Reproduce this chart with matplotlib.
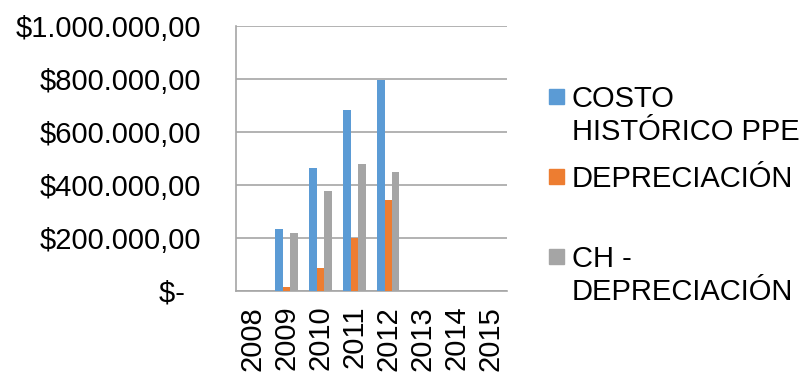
import matplotlib
matplotlib.use("Agg")
import matplotlib.pyplot as plt
import numpy as np
from matplotlib.patches import Rectangle

years = ["2008", "2009", "2010", "2011", "2012", "2013", "2014", "2015"]
costo = [0, 233000, 464000, 683000, 794000, 0, 0, 0]
depreciacion = [0, 12500, 86000, 200000, 344000, 0, 0, 0]
ch_dep = [0, 217000, 375000, 478000, 448000, 0, 0, 0]
yticks = [0, 200000, 400000, 600000, 800000, 1000000]
ytick_labels = ["$-  ", "$200.000,00", "$400.000,00", "$600.000,00", "$800.000,00", "$1.000.000,00"]
legend_lines = [["COSTO", "HISTÓRICO PPE"], ["DEPRECIACIÓN"], ["CH -", "DEPRECIACIÓN"]]
colors = ["#5B9BD5", "#ED7D31", "#A5A5A5"]

plt.rcParams['font.family'] = ['Liberation Sans', 'DejaVu Sans']
FS = 21
W, H = 801, 374
fig = plt.figure(figsize=(W / 100, H / 100), dpi=100)
ax = fig.add_axes([235.7 / W, 1 - 290.5 / H, (507 - 235.7) / W, (290.5 - 26) / H])

x = np.arange(len(years))
bw = 0.22
for i, (vals, c) in enumerate(zip([costo, depreciacion, ch_dep], colors)):
    ax.bar(x + (i - 1) * bw, vals, width=bw, color=c, zorder=3)

ax.set_xlim(-0.5, len(years) - 0.5)
ax.set_ylim(0, 1000000)
ax.set_yticks(yticks)
ax.set_yticklabels(ytick_labels, fontsize=FS)
ax.set_xticks(x)
ax.set_xticklabels(years, rotation=90, fontsize=FS)
ax.tick_params(axis='y', length=0, pad=25)
ax.tick_params(axis='x', length=0, pad=11)
ax.yaxis.grid(True, color="#A6A6A6", linewidth=1.2, zorder=0)
for s in ["top", "right"]:
    ax.spines[s].set_visible(False)
for s in ["left", "bottom"]:
    ax.spines[s].set_color("#A6A6A6")
    ax.spines[s].set_linewidth(1.2)

# legend
baselines = [[106.7, 140], [186.7], [266.7, 300]]
for lines, bls, c in zip(legend_lines, baselines, colors):
    top = bls[0] - 17.5
    fig.patches.append(Rectangle((549 / W, 1 - (top + 14.7) / H), 14.7 / W, 14.7 / H,
                                 transform=fig.transFigure, color=c))
    for t, b in zip(lines, bls):
        fig.text(571.7 / W, 1 - b / H, t, fontsize=FS, va='baseline', ha='left')

fig.savefig("out.png", dpi=100)
